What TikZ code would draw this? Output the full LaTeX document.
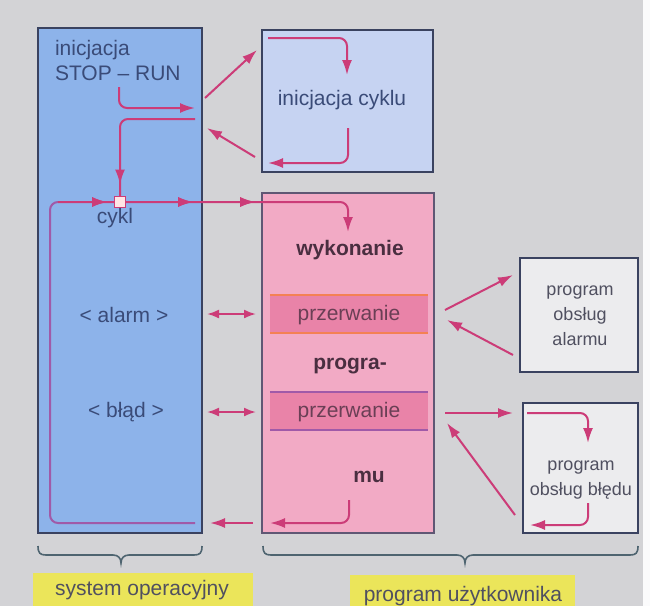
\documentclass[tikz,border=0pt]{standalone}
\usepackage{fontspec}
\setmainfont{Liberation Sans}
\usetikzlibrary{arrows.meta,decorations.markings}
\definecolor{bg}{HTML}{D3D3D6}
\definecolor{sysc}{HTML}{8DB3EA}
\definecolor{initc}{HTML}{C6D3F2}
\definecolor{progc}{HTML}{F2AAC5}
\definecolor{bandc}{HTML}{E983A8}
\definecolor{subc}{HTML}{ECECEE}
\definecolor{arrowc}{HTML}{CC3C78}
\definecolor{loopc}{HTML}{A05AA8}
\definecolor{edgec}{HTML}{3A4260}
\definecolor{yel}{HTML}{EBE55A}
\definecolor{bluetxt}{HTML}{3A4B78}
\definecolor{pinktxt}{HTML}{4A2E40}
\definecolor{graytxt}{HTML}{505060}
\definecolor{bracec}{HTML}{4E6470}
\begin{document}
\begin{tikzpicture}[x=1pt,y=-1pt,
  every node/.style={inner sep=0pt,outer sep=0pt},
  boxs/.style={draw=edgec,line width=1.5pt},
  txt/.style={font=\fontsize{21}{25}\selectfont},
  btxt/.style={font=\fontsize{21}{25}\selectfont\bfseries,text=pinktxt},
  stxt/.style={font=\fontsize{18}{25}\selectfont,text=graytxt,align=center},
  tip/.style={-{Latex[length=15pt,width=10pt]}},
  flow/.style={color=arrowc,line width=2pt,rounded corners=8pt,tip},
  dbl/.style={color=arrowc,line width=2pt,{Latex[length=12pt,width=9pt]}-{Latex[length=12pt,width=9pt]}},
  midtip/.style={postaction={decorate},decoration={markings,
     mark=at position #1 with {\arrow{Latex[length=15pt,width=10pt]}}}},
  yelbox/.style={fill=yel,font=\fontsize{21}{25}\selectfont,text=graytxt}
]
\useasboundingbox (0,0) rectangle (650,606);
\fill[bg] (0,0) rectangle (650,606);
\fill[white!92!bg] (643,0) rectangle (650,606);

% boxes
\node[boxs,fill=sysc,minimum width=164pt,minimum height=505pt] (sys) at (120,280.5) {};
\node[boxs,fill=initc,minimum width=171pt,minimum height=142pt] (init) at (347.5,101) {};
\node[boxs,draw=edgec!80!progc,fill=progc,minimum width=172pt,minimum height=340pt] (prog) at (348,363) {};
\node[fill=bandc,minimum width=158pt,minimum height=38pt] (band1) at (349,314) {};
\draw[orange!50!bandc,line width=1.2pt] (band1.north west) -- (band1.north east) (band1.south west) -- (band1.south east);
\node[fill=bandc,minimum width=158pt,minimum height=38pt] (band2) at (349,411) {};
\draw[loopc,line width=1.2pt] (band2.north west) -- (band2.north east) (band2.south west) -- (band2.south east);
\node[boxs,fill=subc,minimum width=118pt,minimum height=114pt] (alarmbox) at (579,315) {};
\node[boxs,fill=subc,minimum width=115pt,minimum height=130pt] (errbox) at (580.5,468) {};

% texts
\node[txt,text=bluetxt,anchor=base west] (t1) at (55,55) {inicjacja};
\node[txt,text=bluetxt,anchor=base west] (t2) at (55,80) {STOP – RUN};
\node[txt,text=bluetxt,anchor=base] (tcyk) at (115,223) {cykl};
\node[txt,text=bluetxt,anchor=base] (talarm) at (124,322) {< alarm >};
\node[txt,text=bluetxt,anchor=base] (tblad) at (126,417) {< błąd >};
\node[txt,text=bluetxt,anchor=base] (tinit) at (342,105) {inicjacja cyklu};
\node[btxt,anchor=base] (twyk) at (350,255) {wykonanie};
\node[txt,text=pinktxt!80!bandc,anchor=base] (tp1) at (349,320) {przerwanie};
\node[btxt,anchor=base] (tprog) at (350,369) {progra-};
\node[txt,text=pinktxt!80!bandc,anchor=base] (tp2) at (349,417) {przerwanie};
\node[btxt,anchor=base] (tmu) at (369,482) {mu};
\node[stxt] (talp) at (580,316) {program\\obsług\\alarmu};
\node[stxt] (terp) at (581,480) {program\\obsług błędu};

% coordinates
\coordinate (a1s) at (119,87);
\coordinate (a1e) at (195,108);
\coordinate (a2s) at (195,119);
\coordinate (c0) at (58,202);
\coordinate (wtip) at (348,232);
\coordinate (lb) at (195,523);
\coordinate (u1s) at (205,98);
\coordinate (u1e) at (257,50);
\coordinate (u2s) at (255,157);
\coordinate (u2e) at (207,128);
\coordinate (i1s) at (268,38);
\coordinate (i1e) at (347,75);
\coordinate (i2s) at (348,128);
\coordinate (i2e) at (268,163);
\coordinate (al1) at (207,314);
\coordinate (al2) at (256,314);
\coordinate (bl1) at (207,412);
\coordinate (bl2) at (256,412);
\coordinate (mus) at (349,500);
\coordinate (mue) at (270,523);
\coordinate (g1) at (253,523);
\coordinate (g2) at (210,523);
\coordinate (r1s) at (445,310);
\coordinate (r1e) at (513,275);
\coordinate (r2s) at (513,355);
\coordinate (r2e) at (447,320);
\coordinate (r3s) at (445,413);
\coordinate (r3e) at (513,413);
\coordinate (r4s) at (515,515);
\coordinate (r4e) at (447,423);
\coordinate (e1s) at (527,413);
\coordinate (e1e) at (588,443);
\coordinate (e2s) at (588,503);
\coordinate (e2e) at (530,525);

% loop (purple)
\draw[loopc,line width=2pt,rounded corners=8pt] (lb) -| (50,202) -- (c0);

% main cycle line
\draw[flow,midtip=49pt,postaction={decorate},decoration={markings,
   mark=at position 135pt with {\arrow{Latex[length=15pt,width=10pt]}},
   mark=at position 197pt with {\arrow{Latex[length=15pt,width=10pt]}}}]
   (c0) -| (wtip);

\node[draw=arrowc,line width=1.2pt,fill=pink!40!white,minimum size=11pt] (cyk) at (120,202) {};

\draw[flow] (a1s) |- (a1e);
\draw[flow,-,midtip=-12pt] (a2s) -| (cyk.north);

\draw[flow] (u1s) -- (u1e);
\draw[flow] (u2s) -- (u2e);
\draw[flow] (i1s) -| (i1e);
\draw[flow] (i2s) |- (i2e);

\draw[dbl] (al1) -- (al2);
\draw[dbl] (bl1) -- (bl2);

\draw[flow] (mus) |- (mue);
\draw[flow] (g1) -- (g2);

\draw[flow] (r1s) -- (r1e);
\draw[flow] (r2s) -- (r2e);
\draw[flow] (r3s) -- (r3e);
\draw[flow] (r4s) -- (r4e);
\draw[flow] (e1s) -| (e1e);
\draw[flow] (e2s) |- (e2e);

% braces
\draw[bracec,line width=1.6pt] (38,546) .. controls (38,553) and (40,555) .. (46,555)
  -- (113,555) .. controls (118,555) and (121,558) .. (121,563)
  .. controls (121,558) and (124,555) .. (129,555) -- (194,555)
  .. controls (200,555) and (202,553) .. (202,546);
\draw[bracec,line width=1.6pt] (263,546) .. controls (263,553) and (265,555) .. (271,555)
  -- (457,555) .. controls (462,555) and (465,558) .. (465,563)
  .. controls (465,558) and (468,555) .. (473,555) -- (630,555)
  .. controls (636,555) and (638,553) .. (638,546);

% labels
\fill[yel] (33,573) rectangle (253,606);
\node[txt,text=graytxt,anchor=base] (lsys) at (142,595) {system operacyjny};
\fill[yel] (350,575) rectangle (575,606);
\node[txt,text=graytxt,anchor=base] (lusr) at (463,601) {program użytkownika};
\end{tikzpicture}
\end{document}
